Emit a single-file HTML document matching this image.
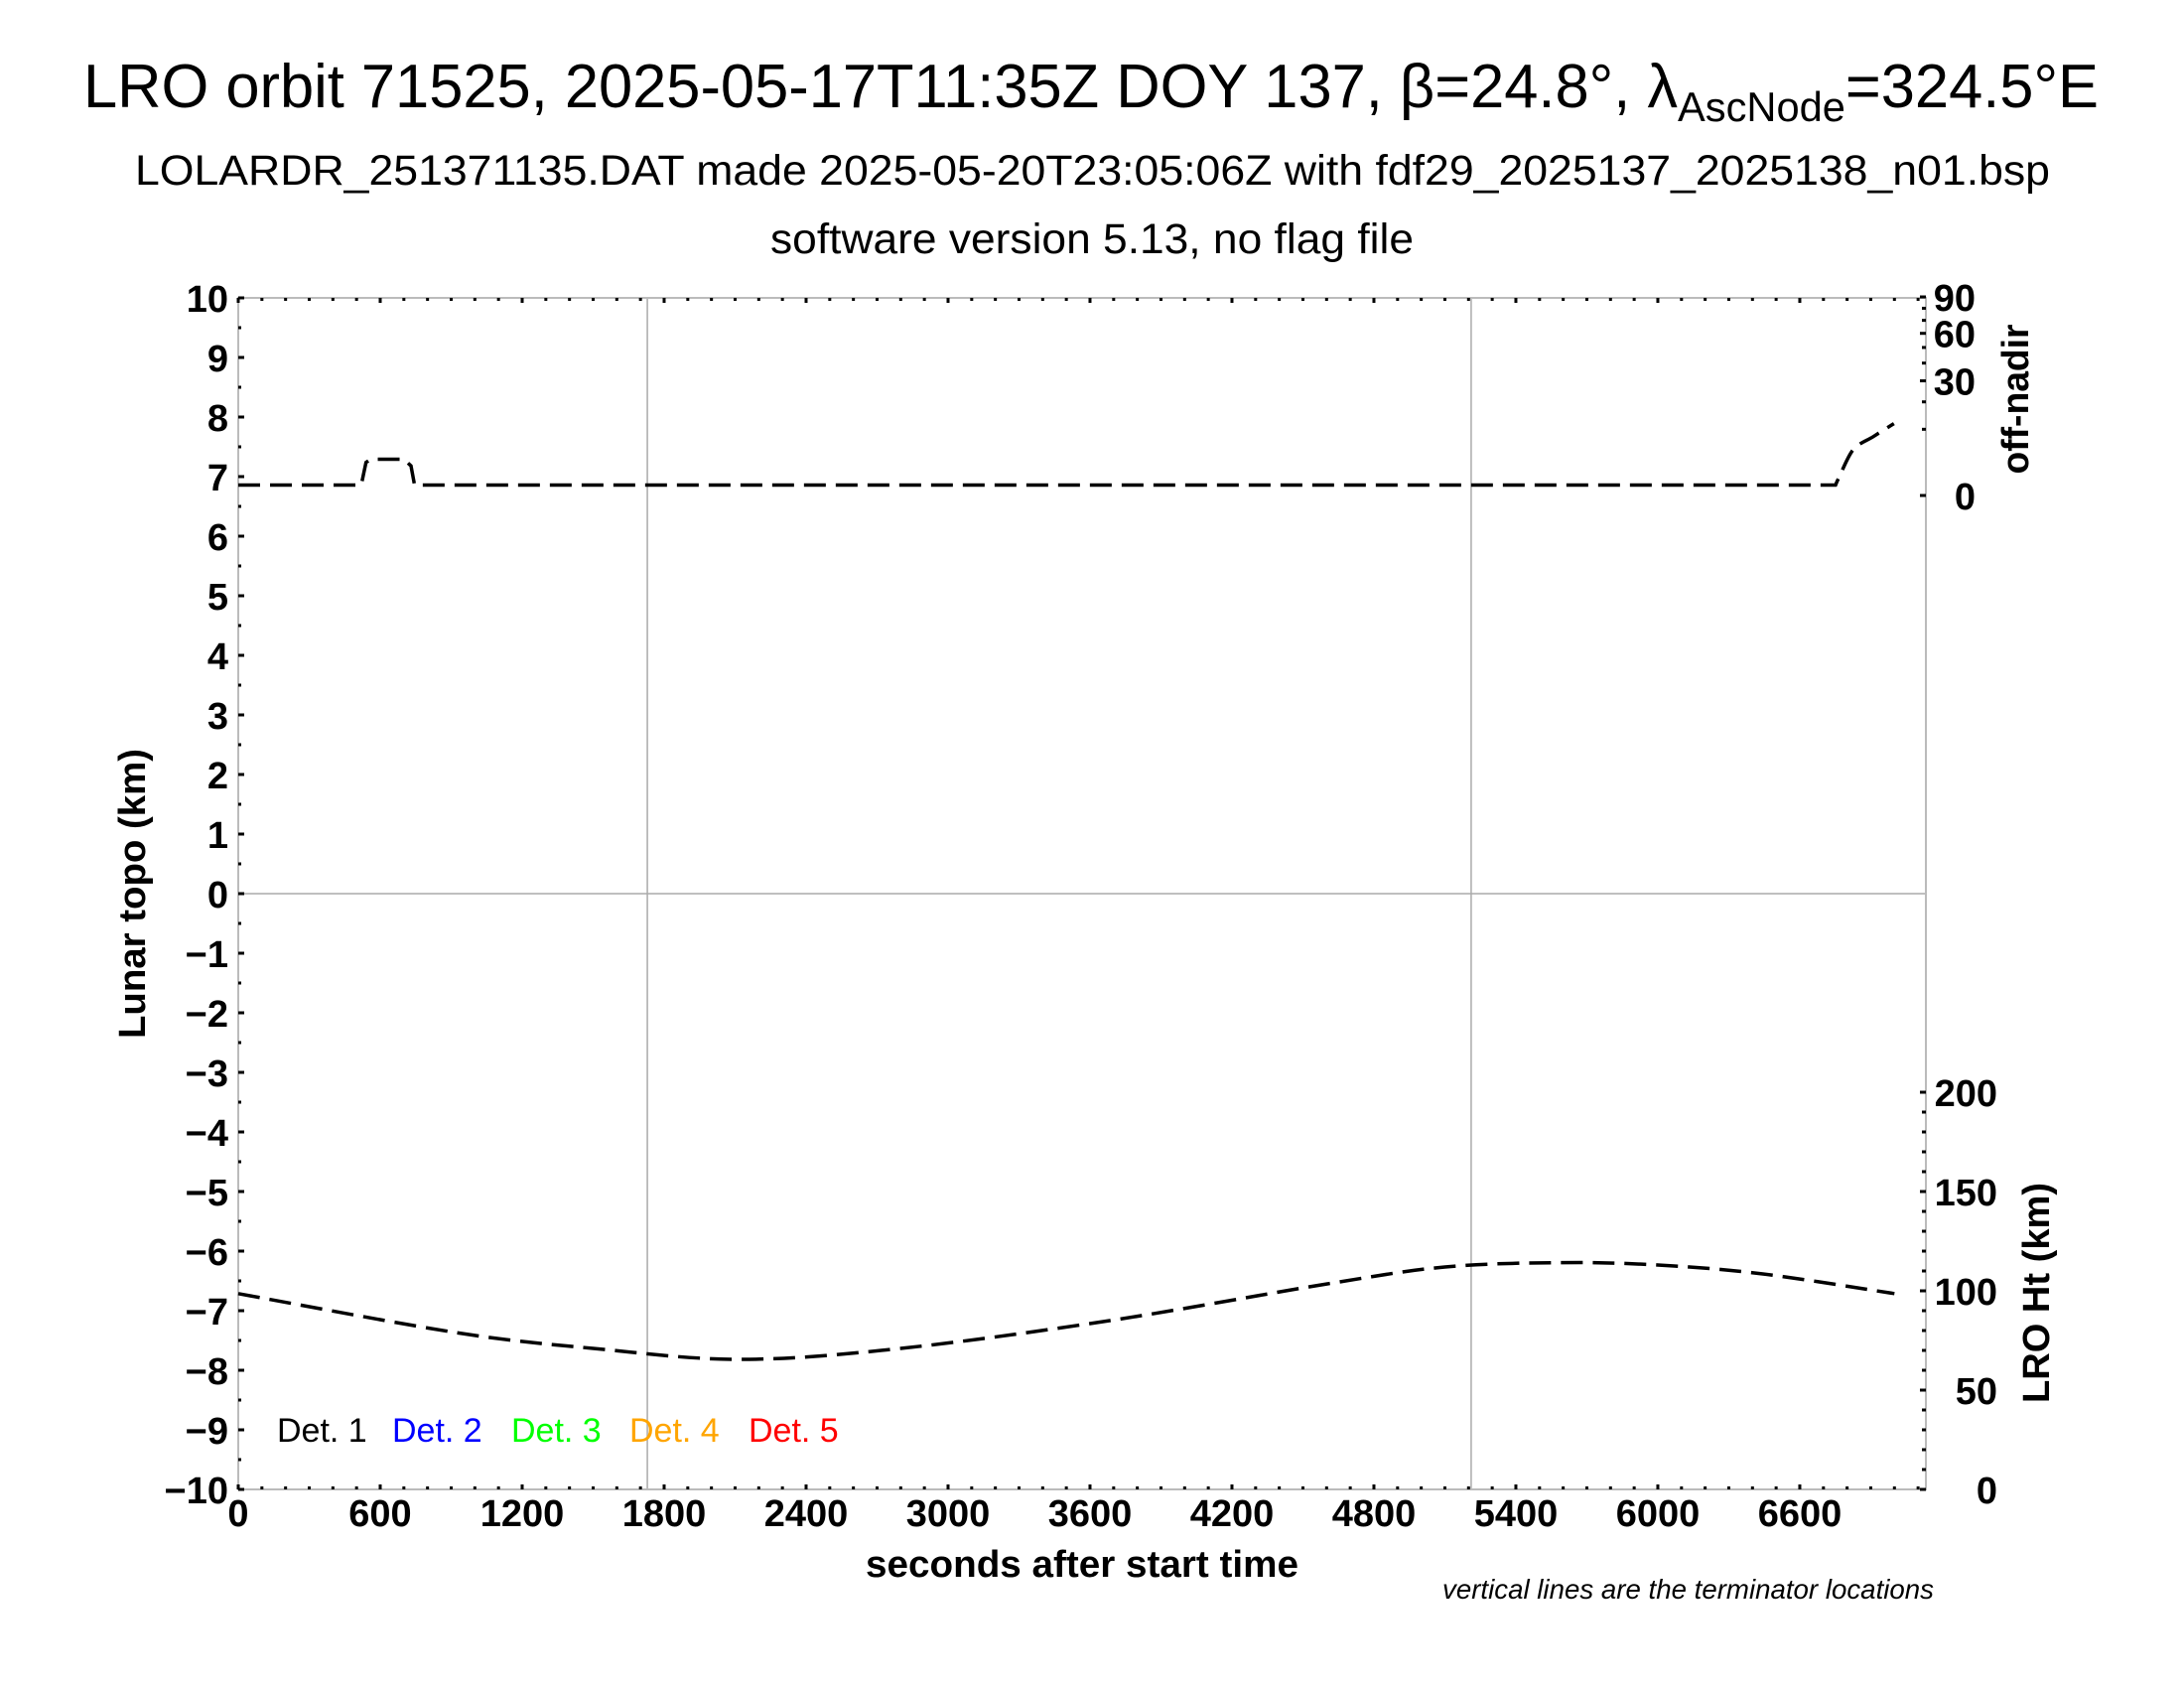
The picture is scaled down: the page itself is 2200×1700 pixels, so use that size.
<!DOCTYPE html>
<html><head><meta charset="utf-8"><style>
html,body{margin:0;padding:0;background:#fff;}
svg{display:block;font-family:"Liberation Sans",sans-serif;}
</style></head><body>
<svg id="chart" width="2200" height="1700" viewBox="0 0 2200 1700" xmlns="http://www.w3.org/2000/svg">
<rect width="2200" height="1700" fill="#fff"/>
<text x="84" y="108" font-size="62" textLength="2030" lengthAdjust="spacingAndGlyphs">LRO orbit 71525, 2025-05-17T11:35Z DOY 137, β=24.8°, λ<tspan font-size="42" dy="14">AscNode</tspan><tspan dy="-14">=324.5°E</tspan></text>
<text x="136" y="186" font-size="43" textLength="1929" lengthAdjust="spacingAndGlyphs">LOLARDR_251371135.DAT made 2025-05-20T23:05:06Z with fdf29_2025137_2025138_n01.bsp</text>
<text x="776" y="255" font-size="43" textLength="648" lengthAdjust="spacingAndGlyphs">software version 5.13, no flag file</text>
<g id="grid"></g>
<g id="axes"></g>
<g id="series"></g>
<text x="1090" y="1588" font-size="38" font-weight="bold" text-anchor="middle" textLength="436" lengthAdjust="spacingAndGlyphs">seconds after start time</text>
<text transform="translate(146,900) rotate(-90)" font-size="38" font-weight="bold" text-anchor="middle" textLength="292" lengthAdjust="spacingAndGlyphs">Lunar topo (km)</text>
<text transform="translate(2043,402) rotate(-90)" font-size="38" font-weight="bold" text-anchor="middle" textLength="151" lengthAdjust="spacingAndGlyphs">off-nadir</text>
<text transform="translate(2064,1302) rotate(-90)" font-size="38" font-weight="bold" text-anchor="middle" textLength="222" lengthAdjust="spacingAndGlyphs">LRO Ht (km)</text>
<text x="1948" y="1610" font-size="28" font-style="italic" text-anchor="end" textLength="495" lengthAdjust="spacingAndGlyphs">vertical lines are the terminator locations</text>
<g font-size="34">
<text x="279" y="1452" fill="#000">Det. 1</text>
<text x="395" y="1452" fill="#0000ff">Det. 2</text>
<text x="515" y="1452" fill="#00ff00">Det. 3</text>
<text x="634" y="1452" fill="#ffa500">Det. 4</text>
<text x="754" y="1452" fill="#ff0000">Det. 5</text>
</g>
</svg>
<script>
const xTicks = [0,600,1200,1800,2400,3000,3600,4200,4800,5400,6000,6600];
const yTicks = [10,9,8,7,6,5,4,3,2,1,0,-1,-2,-3,-4,-5,-6,-7,-8,-9,-10];
const nadirTicks = [0,30,60,90];
const htTicks = [0,50,100,150,200];
const terminators = [1729,5211];
const nadirTime = [0,520,540,560,700,730,745,6751];
const nadirDeg = [0.25,0.25,2.5,3.0,3.0,2.0,0.25,0.25];
const nadirTailTime = [6751,6767,6826,6910,6998];
const nadirTailDeg = [0.25,0.8,4.8,7.9,11.8];
const htTime = [0,919,1500,2119,2800,3683,4603,5100,5593,6000,6444,7000];
const htKm = [98.6,79,71,65.5,71,85,103.5,112,114.2,113,108.5,98.6];

const NS='http://www.w3.org/2000/svg';
const L=240,R=1940,T=300,B=1500,XMAX=7133;
const X=s=>L+s*(R-L)/XMAX;
const Y=k=>900-k*60;
const YN=d=>499-21.08*Math.sqrt(Math.max(d,0));
const YH=h=>1500-h*2.0;
function mk(tag,attrs,parent){const e=document.createElementNS(NS,tag);for(const k in attrs)e.setAttribute(k,attrs[k]);parent.appendChild(e);return e;}
const grid=document.getElementById('grid'),axes=document.getElementById('axes'),series=document.getElementById('series');

const zl=mk('line',{x1:L,x2:R,y1:Y(0),y2:Y(0),stroke:'#aaa','stroke-width':1.5},grid);


terminators.forEach(s=>{
  const l=mk('line',{x1:X(s),x2:X(s),y1:T,y2:B,stroke:'#aaa','stroke-width':1.5},grid);
  
  
});
const fr=mk('rect',{x:L,y:T,width:R-L,height:B-T,fill:'none',stroke:'#bbb','stroke-width':2},axes);


for(let s=0;s<=XMAX;s+=100){
  const big=(s%600===0);
  mk('line',{x1:X(s),x2:X(s),y1:B,y2:B-(big?5:3),stroke:'#000','stroke-width':3},axes);
  mk('line',{x1:X(s),x2:X(s),y1:T,y2:T+(big?5:3),stroke:'#000','stroke-width':3},axes);
}
xTicks.forEach(s=>{
  const t=mk('text',{x:X(s),y:1537,'font-size':38,'font-weight':'bold','text-anchor':'middle'},axes);
  t.textContent=s;
  
  
});
for(let k=-10;k<=10;k+=0.5){mk('line',{x1:L,x2:L+(k%1===0?6:3),y1:Y(k),y2:Y(k),stroke:'#000','stroke-width':3},axes);}
yTicks.forEach(k=>{
  const t=mk('text',{x:230,y:Y(k)+14,'font-size':38,'font-weight':'bold','text-anchor':'end'},axes);
  t.textContent=k<0?'\u2212'+(-k):String(k);
  
  
});
for(let d=0;d<=90;d+=10){mk('line',{x1:R,x2:R-(d%30===0?6:4),y1:YN(d),y2:YN(d),stroke:'#000','stroke-width':3},axes);}
nadirTicks.forEach(d=>{
  const t=mk('text',{x:1990,y:YN(d)+14,'font-size':38,'font-weight':'bold','text-anchor':'end'},axes);
  t.textContent=d;
  
  
});
for(let h=0;h<=200;h+=10){mk('line',{x1:R,x2:R-(h%50===0?6:4),y1:YH(h),y2:YH(h),stroke:'#000','stroke-width':3},axes);}
htTicks.forEach(h=>{
  const t=mk('text',{x:2012,y:YH(h)+14,'font-size':38,'font-weight':'bold','text-anchor':'end'},axes);
  t.textContent=h;
  
  
});
function pathOf(xs,ys,fy){return xs.map((s,i)=>(i?'L':'M')+X(s).toFixed(1)+' '+fy(ys[i]).toFixed(1)).join(' ');}
function smooth(xs,ys,fy){
  const p=xs.map((s,i)=>[X(s),fy(ys[i])]);let d='M'+p[0][0].toFixed(1)+' '+p[0][1].toFixed(1);
  for(let i=0;i<p.length-1;i++){const p0=p[i-1]||p[i],p1=p[i],p2=p[i+1],p3=p[i+2]||p2;
    d+=' C'+(p1[0]+(p2[0]-p0[0])/6).toFixed(1)+' '+(p1[1]+(p2[1]-p0[1])/6).toFixed(1)+' '+(p2[0]-(p3[0]-p1[0])/6).toFixed(1)+' '+(p2[1]-(p3[1]-p1[1])/6).toFixed(1)+' '+p2[0].toFixed(1)+' '+p2[1].toFixed(1);}
  return d;}
const pn=mk('path',{d:pathOf(nadirTime,nadirDeg,YN)+' '+smooth(nadirTailTime,nadirTailDeg,YN).replace(/^M[^C]*/,''),fill:'none',stroke:'#000','stroke-width':3.5,'stroke-dasharray':'22 10'},series);


const ph=mk('path',{d:smooth(htTime,htKm,YH),fill:'none',stroke:'#000','stroke-width':3.5,'stroke-dasharray':'22 10'},series);


</script>
</body></html>
